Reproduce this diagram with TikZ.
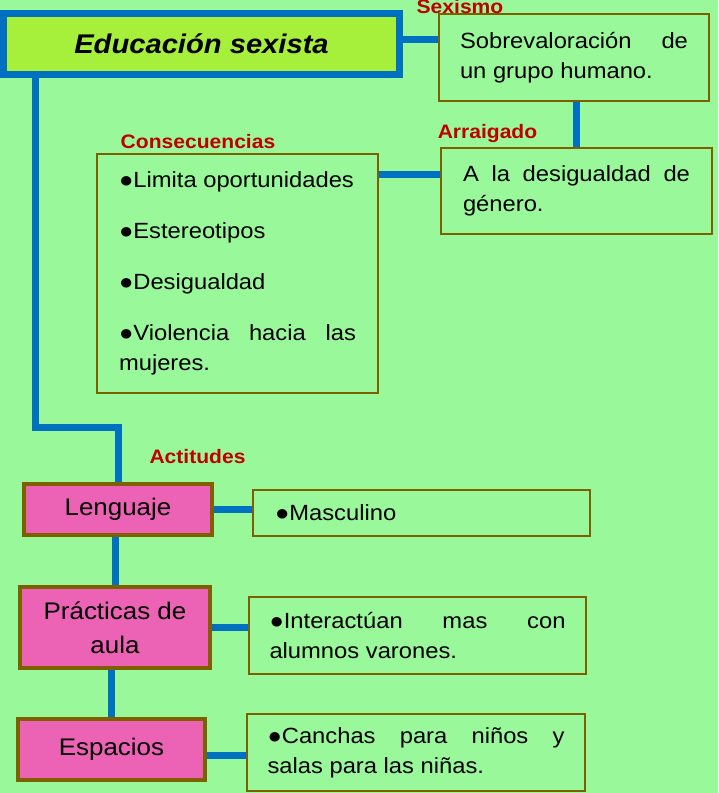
\documentclass[tikz,border=0pt]{standalone}
\usepackage{fontspec}
\setmainfont{Liberation Sans}[FakeStretch=1.08]
\usetikzlibrary{positioning, calc, backgrounds}
\definecolor{bggreen}{RGB}{153,248,153}
\definecolor{titlefill}{RGB}{166,240,60}
\definecolor{linkblue}{RGB}{0,112,192}
\definecolor{boxolive}{RGB}{127,96,0}
\definecolor{pinkfill}{RGB}{236,98,180}
\definecolor{labelred}{RGB}{192,0,0}
\newcommand{\bulletgap}{\par\vspace{21pt}}
\tikzset{
    titlebox/.style={
        rectangle, draw=linkblue, line width=7pt, fill=titlefill,
        minimum width=396pt, minimum height=61pt,
        font=\fontsize{27}{32}\selectfont\bfseries\itshape
    },
    textbox/.style={
        rectangle, draw=boxolive, line width=2.5pt, fill=bggreen,
        inner sep=0pt, align=justify, font=\fontsize{22}{30}\selectfont
    },
    topicbox/.style={
        rectangle, draw=boxolive, line width=4pt, fill=pinkfill,
        align=center, font=\fontsize{24}{34}\selectfont
    },
    link/.style={draw=linkblue, line width=7pt},
    tag/.style={anchor=base, text=labelred, font=\fontsize{19.5}{22}\selectfont\bfseries}
}

\begin{document}
\begin{tikzpicture}[x=1pt, y=-1pt]

\begin{scope}[on background layer]
\fill[bggreen] (0,0) rectangle (718,793);
\end{scope}
\useasboundingbox (0,0) rectangle (718,793);

% Main topic
\node[titlebox] (title) at (201.5,44) {Educación sexista};

% Right column
\node[textbox, minimum width=270pt, minimum height=87pt, text width=228pt] (sexismo) at (574,57.5)
    {Sobrevaloración de\linebreak un grupo humano.};
\node[textbox, minimum width=271pt, minimum height=86pt, text width=227pt] (arraigo) at (576.5,191)
    {A la desigualdad de\linebreak género.};
\node[textbox, minimum width=281pt, minimum height=239pt, text width=237pt] (conseq) at (237.5,273.5)
    {●Limita oportunidades\bulletgap ●Estereotipos\bulletgap ●Desigualdad\bulletgap ●Violencia hacia las\linebreak mujeres.};

% Attitudes
\node[topicbox, minimum width=188pt, minimum height=51pt] (lenguaje) at (118,509.5) {Lenguaje};
\node[topicbox, minimum width=190pt, minimum height=81pt] (practicas) at (115,627.5) {Prácticas de\\aula};
\node[topicbox, minimum width=187pt, minimum height=61pt] (espacios) at (111.5,749.5) {Espacios};

\node[textbox, align=left, minimum width=337pt, minimum height=46pt, text width=293pt] (masculino) at (421.5,513)
    {●Masculino};
\node[textbox, minimum width=337pt, minimum height=77pt, text width=296pt] (aula) at (417.5,635.5)
    {●Interactúan mas con\linebreak alumnos varones.};
\node[textbox, minimum width=338pt, minimum height=77pt, text width=297pt] (canchas) at (416,752.5)
    {●Canchas para niños y\linebreak salas para las niñas.};

% Labels
\node[tag] (tsexismo) at (460,13) {Sexismo};
\node[tag] (tarraigo) at (487.5,138) {Arraigado};
\node[tag] (tconseq) at (198,148) {Consecuencias};
\node[tag] (tactitud) at (197.5,463) {Actitudes};

% Connectors
\coordinate (t1) at ([yshift=5pt]title.east);
\coordinate (a1) at ([yshift=17pt]arraigo.west);
\coordinate (e1) at ([yshift=-5.5pt]espacios.east);
\begin{scope}[on background layer]
\draw[link] (t1) -- (t1 -| sexismo.west);
\draw[link] (sexismo.south -| arraigo.north) -- (arraigo.north);
\draw[link] (conseq.east |- a1) -- (a1);
\draw[link] ([xshift=35pt]title.south west) |- ([yshift=55pt]lenguaje.north) -- (lenguaje.north);
\draw[link] (lenguaje.east) -- (lenguaje.east -| masculino.west);
\draw[link] (lenguaje.south -| practicas.north) -- (practicas.north);
\draw[link] (practicas.east) -- (practicas.east -| aula.west);
\draw[link] (practicas.south -| espacios.north) -- (espacios.north);
\draw[link] (e1) -- (e1 -| canchas.west);
\end{scope}

\end{tikzpicture}
\end{document}
